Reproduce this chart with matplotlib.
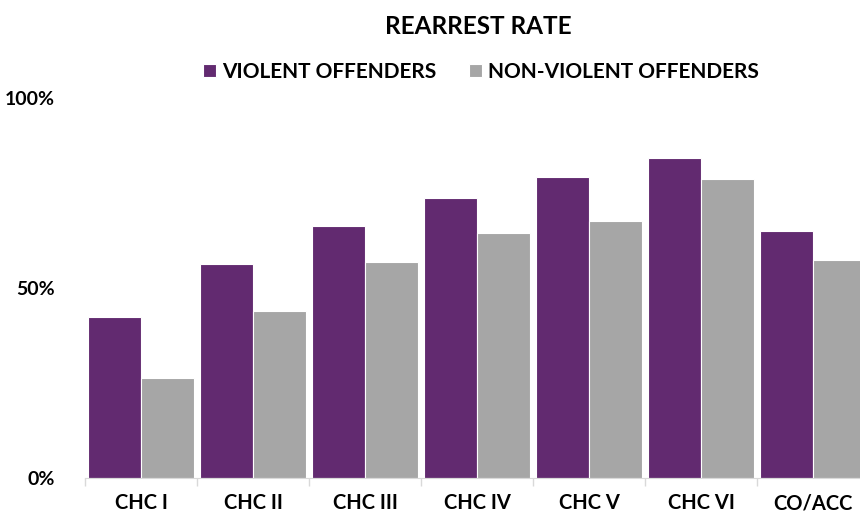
import matplotlib.pyplot as plt
import numpy as np

plt.rcParams['font.family'] = ['Lato', 'DejaVu Sans']
plt.rcParams['font.weight'] = 'bold'

categories = ['CHC I', 'CHC II', 'CHC III', 'CHC IV', 'CHC V', 'CHC VI', 'CO/ACC']
violent = [42.4, 56.3, 66.3, 73.7, 79.2, 84.2, 65.0]
non_violent = [26.3, 43.9, 56.8, 64.5, 67.6, 78.7, 57.4]

purple = '#622A70'
gray = '#A6A6A6'

fig = plt.figure(figsize=(8.6, 5.16), dpi=100)
# axes runs past the right edge, like the original crop
ax = fig.add_axes([85 / 860, 38 / 516, 784 / 860, 380 / 516])

x = np.arange(len(categories))
w = 0.47
ax.bar(x - w / 2, violent, w, color=purple, edgecolor='white', linewidth=0.8,
       label='VIOLENT OFFENDERS')
ax.bar(x + w / 2, non_violent, w, color=gray, edgecolor='white', linewidth=0.8,
       label='NON-VIOLENT OFFENDERS')

ax.set_xlim(-0.5, len(categories) - 0.5)
ax.set_ylim(0, 100)

ax.set_yticks([0, 50, 100])
ax.set_yticklabels(['0%', '50%', '100%'])
ax.tick_params(axis='y', length=0, pad=22, labelsize=14)

ax.set_xticks(x)
ax.set_xticklabels(categories)
ax.set_xticks(np.arange(-0.5, len(categories)), minor=True)
ax.tick_params(axis='x', which='major', length=0, pad=11, labelsize=14.5)
ax.tick_params(axis='x', which='minor', length=6, color='#D9D9D9', width=1)

for s in ['top', 'right', 'left']:
    ax.spines[s].set_visible(False)
ax.spines['bottom'].set_color('#D9D9D9')

fig.text(478 / 860, 1 - 27 / 516, 'REARREST RATE', ha='center', va='center',
         fontsize=17.5, fontweight='bold')
fig.legend(loc='center', bbox_to_anchor=(481 / 860, 1 - 72 / 516), ncol=2,
           frameon=False, fontsize=15, handlelength=0.6, handleheight=0.6,
           handletextpad=0.3, columnspacing=1.6)

fig.savefig('out.png', dpi=100)
